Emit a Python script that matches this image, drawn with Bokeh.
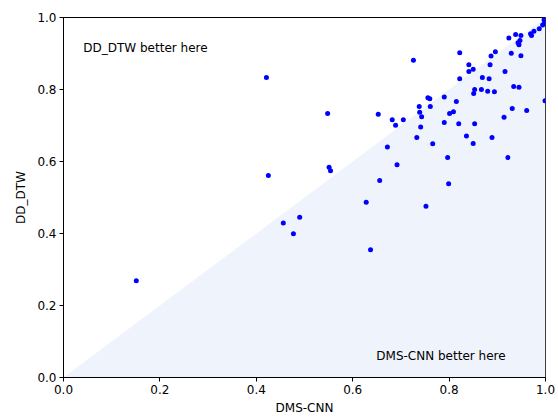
from bokeh.plotting import figure
from bokeh.models import Range1d, FixedTicker, Label, ColumnDataSource
from bokeh.embed import file_html
from bokeh.resources import INLINE

# Per-dataset accuracy of the two methods
dms_cnn = [0.151, 0.421, 0.425, 0.456, 0.477, 0.490, 0.548, 0.551, 0.554, 0.628,
           0.637, 0.653, 0.656, 0.672, 0.682, 0.689, 0.692, 0.705, 0.726, 0.733,
           0.738, 0.739, 0.743, 0.741, 0.752, 0.756, 0.760, 0.761, 0.766, 0.790,
           0.790, 0.797, 0.799, 0.801, 0.809, 0.815, 0.820, 0.822, 0.822, 0.836,
           0.841, 0.841, 0.850, 0.850, 0.851, 0.853, 0.853, 0.867, 0.869, 0.880,
           0.883, 0.885, 0.887, 0.889, 0.894, 0.896, 0.914, 0.916, 0.922, 0.924,
           0.929, 0.931, 0.934, 0.938, 0.943, 0.945, 0.945, 0.947, 0.949, 0.949,
           0.961, 0.969, 0.971, 0.976, 0.987, 0.994, 0.997, 0.999, 0.998]
dd_dtw = [0.269, 0.833, 0.561, 0.429, 0.399, 0.445, 0.733, 0.584, 0.574, 0.487,
          0.355, 0.731, 0.547, 0.640, 0.716, 0.701, 0.591, 0.716, 0.881, 0.667,
          0.753, 0.737, 0.724, 0.696, 0.476, 0.777, 0.774, 0.753, 0.649, 0.779,
          0.708, 0.611, 0.538, 0.733, 0.738, 0.767, 0.705, 0.902, 0.830, 0.671,
          0.869, 0.850, 0.856, 0.650, 0.789, 0.800, 0.705, 0.800, 0.833, 0.795,
          0.830, 0.869, 0.893, 0.667, 0.794, 0.905, 0.723, 0.850, 0.611, 0.943,
          0.901, 0.747, 0.808, 0.953, 0.930, 0.924, 0.806, 0.936, 0.950, 0.894,
          0.742, 0.955, 0.950, 0.962, 0.969, 0.979, 0.994, 0.769, 0.985]

ticks = [0.0, 0.2, 0.4, 0.6, 0.8, 1.0]
tick_labels = {t: f"{t:.1f}" for t in ticks}

# Region below the diagonal, where DMS-CNN wins
region_x = [0.0, 1.0, 1.0]
region_y = [0.0, 1.0, 0.0]

FONT = "DejaVu Sans"

p = figure(frame_width=482, frame_height=360,
           x_range=Range1d(0, 1), y_range=Range1d(0, 1),
           output_backend="svg", toolbar_location=None,
           min_border_left=63, min_border_right=13,
           min_border_top=17, min_border_bottom=40)
p.width = 558
p.height = 417

p.xgrid.visible = False
p.ygrid.visible = False
p.outline_line_color = "black"
p.outline_line_width = 1
p.background_fill_color = "white"
p.border_fill_color = "white"

p.patch(region_x, region_y, fill_color="#eef3fc", line_color=None)

src = ColumnDataSource(dict(x=dms_cnn, y=dd_dtw))
p.scatter("x", "y", source=src, size=5, fill_color="#0000ff",
          line_color=None)

for ax in (p.xaxis, p.yaxis):
    ax.ticker = FixedTicker(ticks=ticks)
    ax.major_label_overrides = tick_labels
    ax.minor_tick_line_color = None
    ax.major_tick_in = 0
    ax.major_tick_out = 4
    ax.major_label_text_font = FONT
    ax.major_label_text_font_size = "12px"
    ax.major_label_text_color = "black"
    ax.axis_label_text_font = FONT
    ax.axis_label_text_font_size = "12px"
    ax.axis_label_text_font_style = "normal"
    ax.axis_label_text_color = "black"
    ax.axis_line_color = "black"
    ax.major_tick_line_color = "black"
    ax.major_label_standoff = 3

p.xaxis.axis_label = "DMS-CNN"
p.yaxis.axis_label = "DD_DTW"
p.xaxis.axis_label_standoff = 4
p.yaxis.axis_label_standoff = 6

p.add_layout(Label(x=0.041, y=0.914, text="DD_DTW better here",
                   text_font=FONT, text_font_size="12px", text_color="black",
                   text_baseline="middle", text_align="left"))
p.add_layout(Label(x=0.649, y=0.061, text="DMS-CNN better here",
                   text_font=FONT, text_font_size="12px", text_color="black",
                   text_baseline="middle", text_align="left"))

open("out.html", "w").write(file_html(p, INLINE))
